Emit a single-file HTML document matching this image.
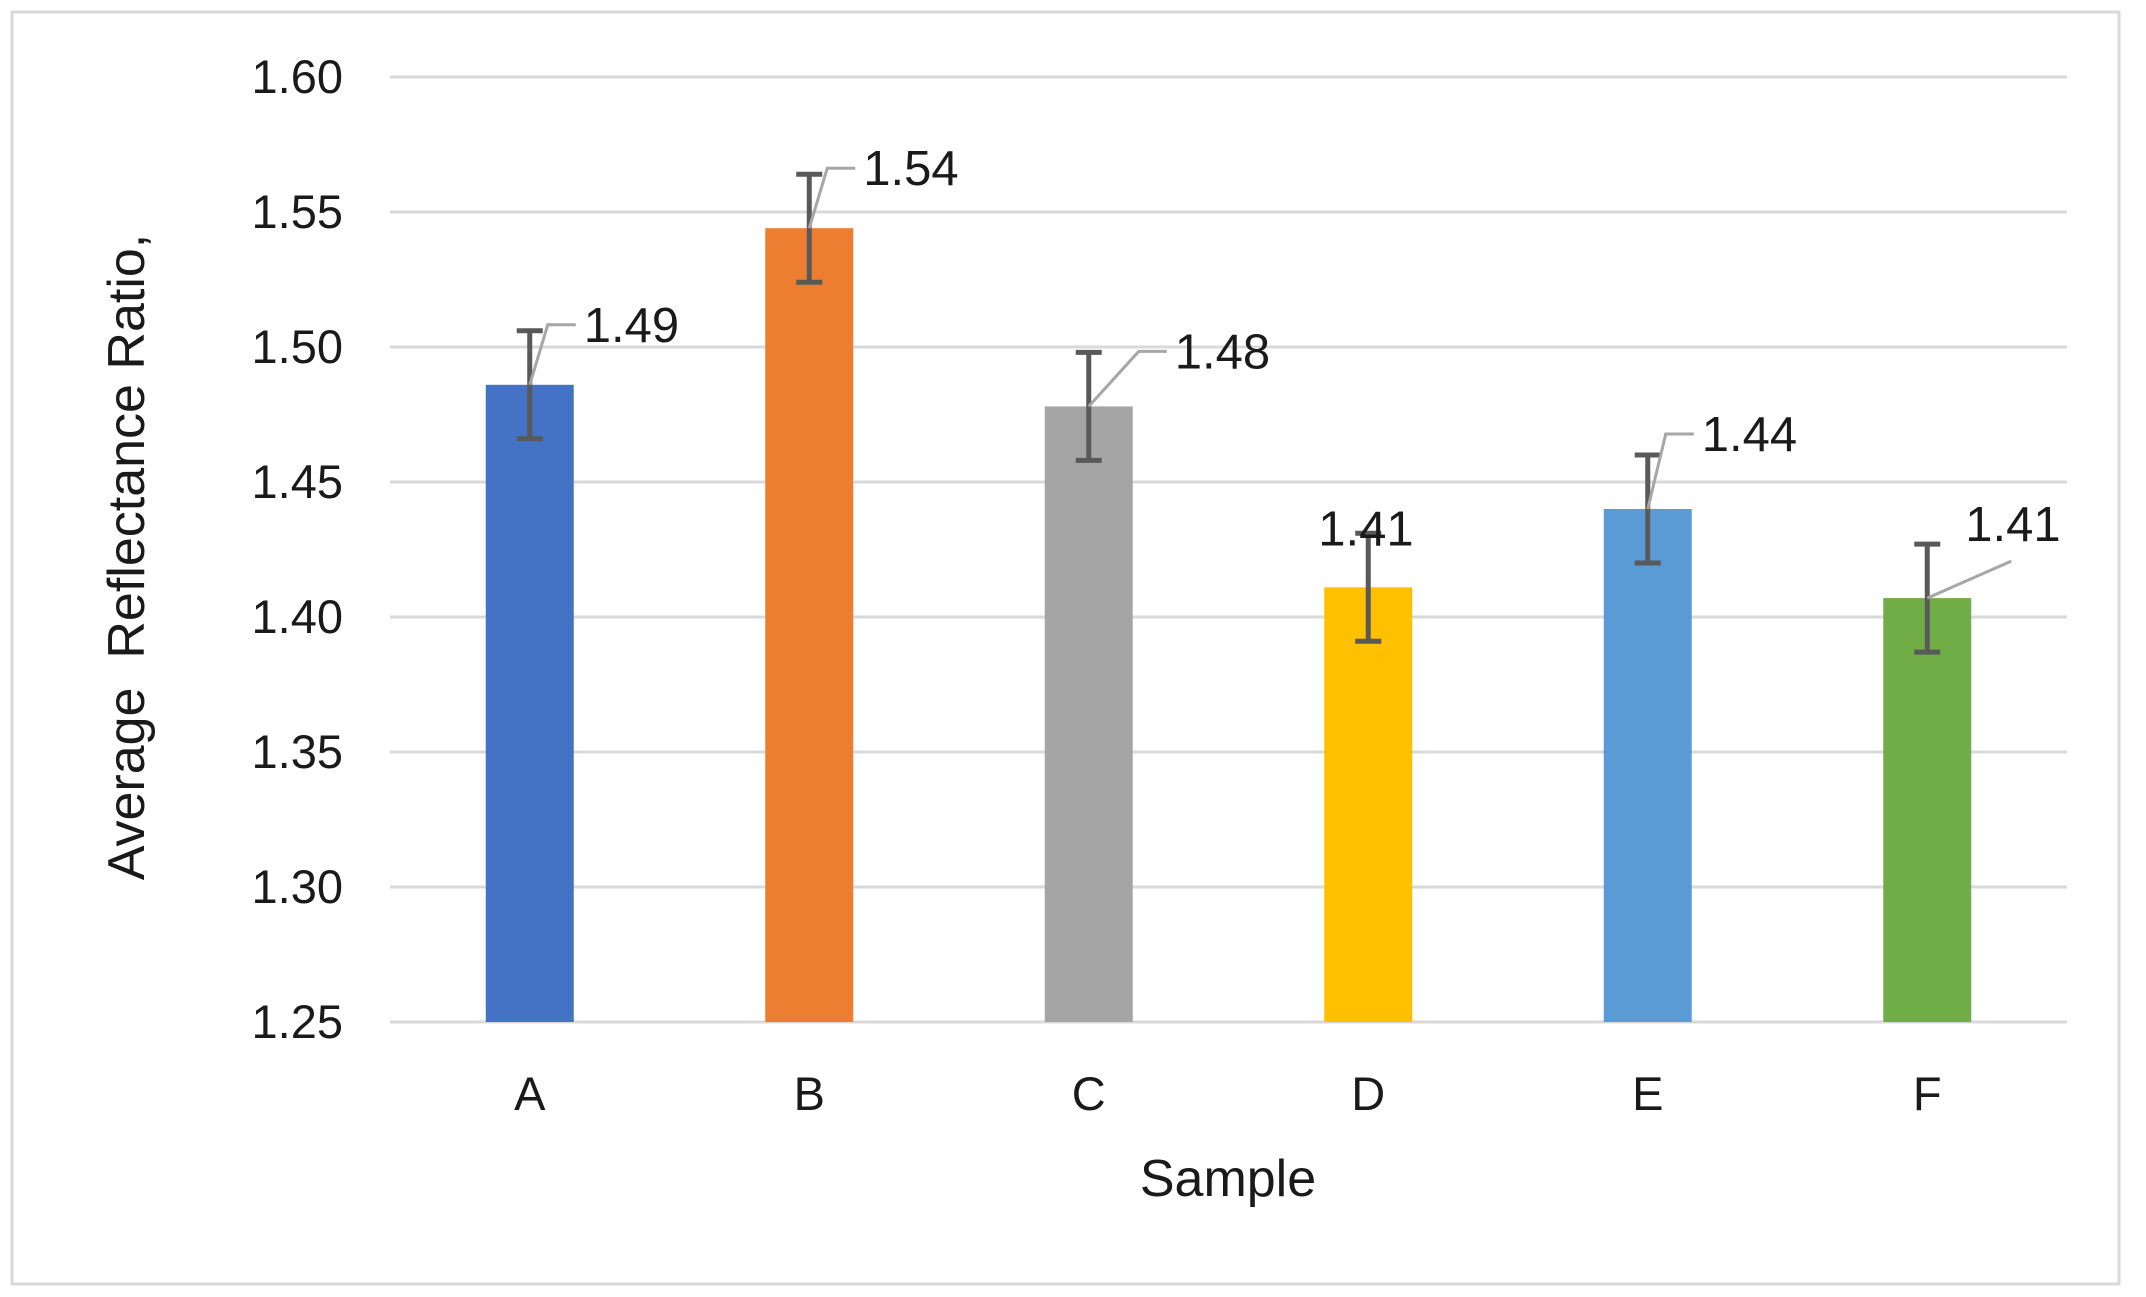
<!DOCTYPE html>
<html><head><meta charset="utf-8"><style>
html,body{margin:0;padding:0;background:#fff}
svg{display:block;font-family:"Liberation Sans",sans-serif}
</style></head><body>
<svg id="chart" width="2146" height="1297">
<rect x="12" y="12" width="2107" height="1272" fill="#fff" stroke="#d9d9d9" stroke-width="3"/>
<g id="grid"></g><g id="bars"></g><g id="labels"></g>
<text x="1228" y="1196" font-size="52" text-anchor="middle" fill="#1a1a1a">Sample</text>
<text transform="translate(144,557) rotate(-90)" font-size="52" text-anchor="middle" fill="#1a1a1a" xml:space="preserve">Average  Reflectance Ratio,</text>
</svg>
<script>
const categories=["A","B","C","D","E","F"];
const values=[1.486,1.544,1.478,1.411,1.440,1.407];
const errors=[0.020,0.020,0.020,0.020,0.020,0.020];
const valueLabels=["1.49","1.54","1.48","1.41","1.44","1.41"];
const ticks=[1.25,1.30,1.35,1.40,1.45,1.50,1.55,1.60];
const colors=["#4472c4","#ed7d31","#a5a5a5","#ffc000","#5b9bd5","#70ad47"];
const NS="http://www.w3.org/2000/svg";
const x0=390,x1=2067,yMin=1.25,yMax=1.60,yTop=77,yBot=1022;
const y=v=>yBot-(v-yMin)/(yMax-yMin)*(yBot-yTop);
const bw=(x1-x0)/categories.length;
const xc=i=>x0+bw*(i+0.5);
function mk(tag,attrs,parent,text){const e=document.createElementNS(NS,tag);for(const k in attrs)e.setAttribute(k,attrs[k]);if(text!==undefined)e.textContent=text;parent.appendChild(e);return e;}
const grid=document.getElementById('grid'),bars=document.getElementById('bars'),labels=document.getElementById('labels');
ticks.forEach(t=>{
 const l=mk('line',{x1:x0,x2:x1,y1:y(t),y2:y(t),stroke:'#d9d9d9','stroke-width':3},grid);
 
 
 const tx=mk('text',{x:343,y:y(t)+16,'font-size':47,'text-anchor':'end',fill:'#1a1a1a'},grid,t.toFixed(2));
 
 
});
const offs=[[18,-60,'h'],[18,-60,'h'],[50,-55,'d'],[0,-55,'n'],[18,-75,'h'],[84,-37,'f']];
categories.forEach((c,i)=>{
 const cx=xc(i),v=values[i],bwid=88;
 const r=mk('rect',{x:cx-bwid/2,y:y(v),width:bwid,height:yBot-y(v),fill:colors[i]},bars);
 
 
 const eg=mk('g',{stroke:'#595959','stroke-width':5},bars);
 
 
 mk('line',{x1:cx,x2:cx,y1:y(v+errors[i]),y2:y(v-errors[i])},eg);
 mk('line',{x1:cx-13,x2:cx+13,y1:y(v+errors[i]),y2:y(v+errors[i])},eg);
 mk('line',{x1:cx-13,x2:cx+13,y1:y(v-errors[i]),y2:y(v-errors[i])},eg);
 const xl=mk('text',{x:cx,y:1110,'font-size':47,'text-anchor':'middle',fill:'#1a1a1a'},labels,c);
 
 
 const o=offs[i],by=y(v);
 let lx,ly;
 if(o[2]==='n'){lx=cx-50;ly=by-42;}
 else if(o[2]==='f'){
  const ex=cx+o[0],ey=by+o[1];
  const ld=mk('polyline',{points:`${cx},${by} ${ex},${ey}`,fill:'none',stroke:'#a6a6a6','stroke-width':3},labels);
  
  
  lx=cx+38;ly=ey-20;
 }
 else{
  const ex=cx+o[0],ey=by+o[1];
  const ld=mk('polyline',{points:`${cx},${by} ${ex},${ey} ${ex+28},${ey}`,fill:'none',stroke:'#a6a6a6','stroke-width':3},labels);
  
  
  lx=ex+36;ly=ey+17;
 }
 const vl=mk('text',{x:lx,y:ly,'font-size':49,fill:'#1a1a1a'},labels,valueLabels[i]);
 
 
});
</script>
</body></html>
